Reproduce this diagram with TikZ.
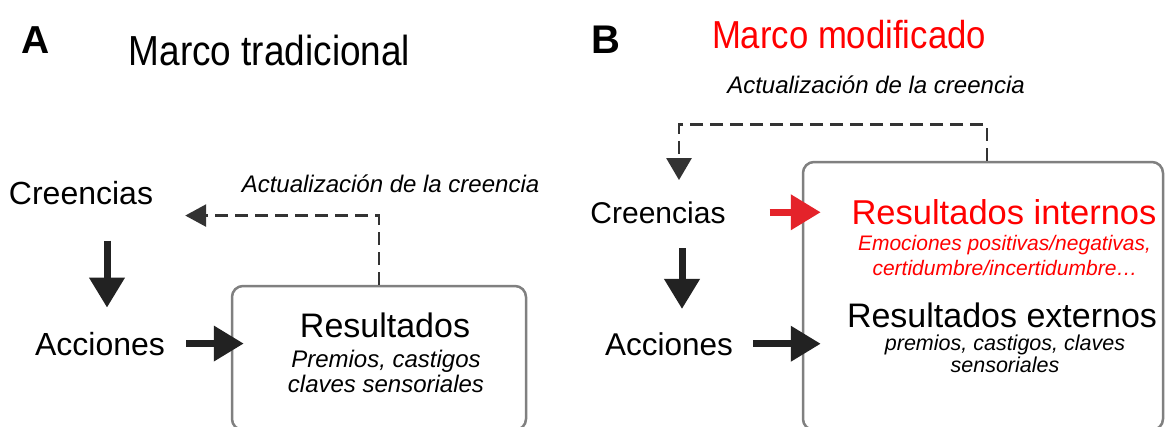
\documentclass[tikz,border=0pt]{standalone}
\usepackage{fontspec}
\setmainfont{Liberation Sans}
\usetikzlibrary{arrows.meta}
\definecolor{boxgray}{HTML}{808080}
\definecolor{dashgray}{HTML}{333333}
\definecolor{arrowblack}{HTML}{222222}
\definecolor{arrowred}{HTML}{E4232A}
\definecolor{textred}{HTML}{FF0000}
\newcommand{\fsz}[1]{\fontsize{#1}{#1}\selectfont}

\begin{document}
\begin{tikzpicture}[x=1pt,y=-1pt,
   txt/.style={inner sep=0pt,anchor=base},
   bigarrow/.style={arrowblack,line width=7pt,-{Triangle[width=34pt,length=30pt]}},
   dashline/.style={dashgray,line width=2.8pt,dash pattern=on 13pt off 7pt},
   resbox/.style={draw=boxgray,line width=2.5pt,rounded corners=11pt,inner sep=0pt}]
   \fill[white] (0,0) rectangle (1165,426);
   \useasboundingbox (0,0) rectangle (1165,426);
   % A
   \node[txt,font=\bfseries\fsz{39}] (la) at (35.5,53) {A};
   \node[txt,font=\fsz{42}] (titlea) at (269.5,65) {\scalebox{0.88}[1]{Marco tradicional}};
   \node[txt,font=\fsz{32}] (crea) at (81,204) {Creencias};
   \node[txt,font=\fsz{32}] (acca) at (100,355) {Acciones};
   \node[txt,font=\itshape\fsz{24}] (upda) at (390.5,192) {Actualización de la creencia};
   \node[resbox,minimum width=294pt,minimum height=144pt] (boxa) at (379,358) {};
   \node[txt,font=\fsz{34}] (resa) at (385,337) {Resultados};
   \node[txt,font=\itshape\fsz{24}] (suba1) at (386,367) {Premios, castigos};
   \node[txt,font=\itshape\fsz{24}] (suba2) at (386,392) {claves sensoriales};
   \draw[bigarrow] ([xshift=26pt,yshift=-36pt]crea.south) -- ([xshift=7pt,yshift=24pt]acca.north);
   \draw[bigarrow,shorten <=21pt,shorten >=-13pt] (acca.east) -- (acca.east -| boxa.west);
   \draw[dashline,-{Triangle[width=22pt,length=21pt]}] (boxa.north) |- ([xshift=32pt,yshift=-23pt]crea.east);
   % B
   \node[txt,font=\bfseries\fsz{40}] (lb) at (605.5,53) {B};
   \node[txt,font=\fsz{39},textred] (titleb) at (849,48) {\scalebox{0.89}[1]{Marco modificado}};
   \node[txt,font=\itshape\fsz{24}] (updb) at (876,93) {Actualización de la creencia};
   \node[txt,font=\fsz{30}] (creb) at (658,223) {Creencias};
   \node[txt,font=\fsz{31.5}] (accb) at (669,355) {Acciones};
   \node[resbox,minimum width=360pt,minimum height=268pt] (boxb) at (983,296) {};
   \node[txt,font=\fsz{34.5},textred] (resb1) at (1004,224) {Resultados internos};
   \node[txt,font=\itshape\fsz{21},textred] (subb1) at (1004.5,250) {Emociones positivas/negativas,};
   \node[txt,font=\itshape\fsz{21},textred] (subb2) at (1005,275) {certidumbre/incertidumbre…};
   \node[txt,font=\fsz{34}] (resb2) at (1002,327) {Resultados externos};
   \node[txt,font=\itshape\fsz{21.5}] (subb3) at (1005,350) {premios, castigos, claves};
   \node[txt,font=\itshape\fsz{21.5}] (subb4) at (1005,372) {sensoriales};
   \draw[bigarrow] ([xshift=24pt,yshift=-25pt]creb.south) -- ([xshift=13pt,yshift=23pt]accb.north);
   \draw[bigarrow,arrowred,shorten <=44pt,shorten >=-19pt] (creb.east) -- (creb.east -| boxb.west);
   \draw[bigarrow,shorten <=20pt,shorten >=-19pt] (accb.east) -- (accb.east -| boxb.west);
   \draw[dashline,-{Triangle[width=25pt,length=22pt]}] ([xshift=4pt]boxb.north) -- ++(0,-36) -| ([xshift=21pt,yshift=21pt]creb.north);
\end{tikzpicture}
\end{document}
